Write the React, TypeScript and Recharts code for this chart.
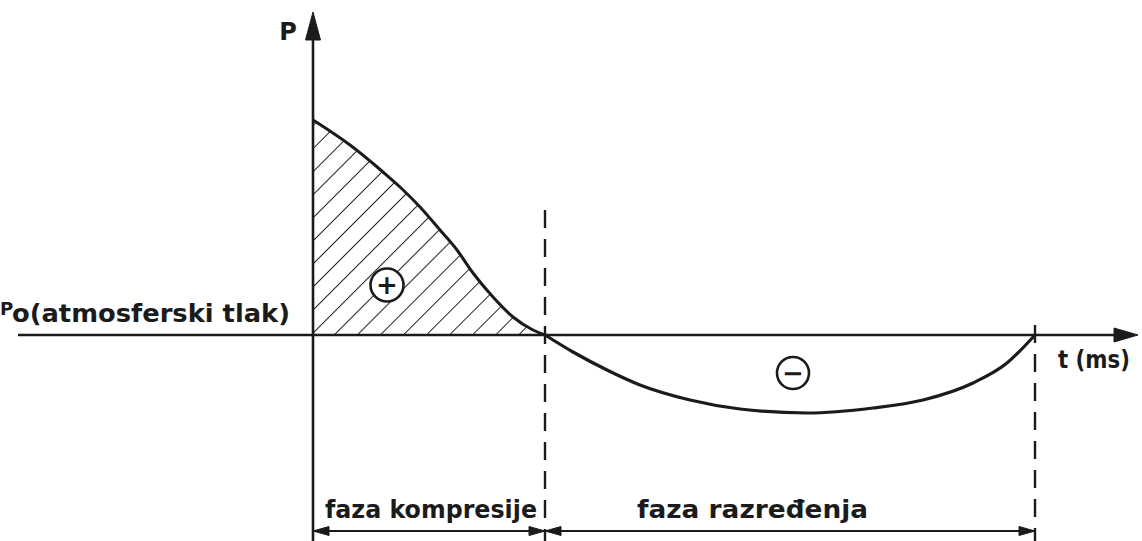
import React from 'react';
import { ComposedChart, Area, Line, XAxis, YAxis, ReferenceLine, ReferenceDot } from 'recharts';

// time (arbitrary ms units) and overpressure p - p0 (arbitrary units)
const tPos = [0, 0.37, 0.7, 0.87, 1.07, 1.27, 1.44, 1.6, 1.8, 2.0, 2.2, 2.32];
const pPos = [2.15, 1.9, 1.63, 1.48, 1.28, 1.05, 0.85, 0.62, 0.38, 0.18, 0.05, 0];
const tNeg = [2.32, 2.6, 2.94, 3.27, 3.77, 4.27, 4.94, 5.6, 6.1, 6.6, 6.94, 7.22];
const pNeg = [0, -0.17, -0.35, -0.5, -0.65, -0.74, -0.78, -0.73, -0.65, -0.48, -0.28, 0];

const tCompressionEnd = 2.32;
const tRarefactionEnd = 7.22;

const xDomain: [number, number] = [-3.13, 8.29];
const yDomain: [number, number] = [-2.06, 3.35];

const labelP = 'P';
const labelP0 = 'P';
const labelP0Rest = 'o(atmosferski tlak)';
const labelT = 't (ms)';
const labelCompression = 'faza kompresije';
const labelRarefaction = 'faza razređenja';

const table: { t: number; pos?: number | null; neg?: number | null }[] = [];
tPos.forEach((t, i) => table.push({ t, pos: pPos[i], neg: null }));
table[table.length - 1].neg = pNeg[0];
tNeg.slice(1).forEach((t, i) => table.push({ t, pos: null, neg: pNeg[i + 1] }));

const INK = '#1b1b1b';
const FONT = '"DejaVu Sans", sans-serif';

type Dir = 'up' | 'left' | 'right';
const arrow = (dir: Dir, L: number, W: number) => (props: any) => {
  const { cx, cy } = props;
  let pts = '';
  if (dir === 'up') pts = `${cx},${cy} ${cx - W},${cy + L} ${cx + W},${cy + L}`;
  if (dir === 'right') pts = `${cx},${cy} ${cx - L},${cy - W} ${cx - L},${cy + W}`;
  if (dir === 'left') pts = `${cx},${cy} ${cx + L},${cy - W} ${cx + L},${cy + W}`;
  return <polygon points={pts} fill={INK} stroke={INK} strokeWidth={1} />;
};

const txt =
  (s: string, size: number, anchor: 'start' | 'end' | 'middle', len?: number) => (props: any) =>
    (
      <text
        x={props.cx}
        y={props.cy}
        fontFamily={FONT}
        fontWeight="bold"
        fontSize={size}
        fill={INK}
        textAnchor={anchor}
        textLength={len}
        lengthAdjust={len ? 'spacingAndGlyphs' : undefined}
      >
        {s}
      </text>
    );

const signCircle = (s: string, r: number) => (props: any) => (
  <g>
    <circle cx={props.cx} cy={props.cy} r={r} fill="#fff" stroke={INK} strokeWidth={2.6} />
    <text
      x={props.cx}
      y={props.cy}
      fontFamily={FONT}
      fontWeight="bold"
      fontSize={26}
      fill={INK}
      textAnchor="middle"
      dominantBaseline="central"
    >
      {s}
    </text>
  </g>
);

export default function App() {
  return (
    <div style={{ position: 'absolute', left: 0, top: 0, width: 1142, height: 541, background: '#fff' }}>
      <ComposedChart width={1142} height={541} data={table} margin={{ top: 0, right: 0, bottom: 0, left: 0 }}>
        <defs>
          <pattern id="hatch" patternUnits="userSpaceOnUse" width={16.3} height={16.3} patternTransform="rotate(45)">
            <line x1={0} y1={-2} x2={0} y2={19} stroke={INK} strokeWidth={1.9} />
          </pattern>
        </defs>
        <XAxis type="number" dataKey="t" domain={xDomain} allowDataOverflow hide />
        <YAxis type="number" domain={yDomain} allowDataOverflow hide />

        <Area
          type="monotone"
          dataKey="pos"
          baseValue={0}
          stroke={INK}
          strokeWidth={3}
          fill="url(#hatch)"
          fillOpacity={1}
          isAnimationActive={false}
          dot={false}
          activeDot={false}
        />
        <Line
          type="monotone"
          dataKey="neg"
          stroke={INK}
          strokeWidth={3.2}
          dot={false}
          activeDot={false}
          isAnimationActive={false}
        />

        {/* axes */}
        <ReferenceLine
          segment={[{ x: -2.95, y: 0 }, { x: 8.05, y: 0 }]}
          stroke={INK}
          strokeWidth={2.6}
          ifOverflow="visible"
        />
        <ReferenceLine
          segment={[{ x: 0, y: yDomain[0] }, { x: 0, y: 2.95 }]}
          stroke={INK}
          strokeWidth={2.6}
          ifOverflow="visible"
        />
        <ReferenceDot x={8.25} y={0} r={0} ifOverflow="visible" shape={arrow('right', 24, 7)} />
        <ReferenceDot x={0} y={3.23} r={0} ifOverflow="visible" shape={arrow('up', 28, 7.5)} />

        {/* phase boundaries */}
        <ReferenceLine
          segment={[{ x: tCompressionEnd, y: 1.25 }, { x: tCompressionEnd, y: yDomain[0] }]}
          stroke={INK}
          strokeWidth={2.4}
          strokeDasharray="18 11"
          ifOverflow="visible"
        />
        <ReferenceLine
          segment={[{ x: tRarefactionEnd, y: 0.1 }, { x: tRarefactionEnd, y: yDomain[0] }]}
          stroke={INK}
          strokeWidth={2.4}
          strokeDasharray="18 11"
          ifOverflow="visible"
        />

        {/* duration arrows */}
        <ReferenceLine
          segment={[{ x: 0, y: -1.96 }, { x: tRarefactionEnd, y: -1.96 }]}
          stroke={INK}
          strokeWidth={2}
          ifOverflow="visible"
        />
        <ReferenceDot x={0} y={-1.96} r={0} ifOverflow="visible" shape={arrow('left', 16, 4.5)} />
        <ReferenceDot x={tCompressionEnd} y={-1.96} r={0} ifOverflow="visible" shape={arrow('right', 16, 4.5)} />
        <ReferenceDot x={tCompressionEnd} y={-1.96} r={0} ifOverflow="visible" shape={arrow('left', 16, 4.5)} />
        <ReferenceDot x={tRarefactionEnd} y={-1.96} r={0} ifOverflow="visible" shape={arrow('right', 16, 4.5)} />

        {/* signs */}
        <ReferenceDot x={0.74} y={0.5} r={0} ifOverflow="visible" shape={signCircle('+', 16.5)} />
        <ReferenceDot x={4.8} y={-0.38} r={0} ifOverflow="visible" shape={signCircle('−', 16)} />

        {/* labels */}
        <ReferenceDot x={-0.25} y={2.95} r={0} ifOverflow="visible" shape={txt(labelP, 24, 'middle')} />
        <ReferenceDot x={-3.13} y={0.2} r={0} ifOverflow="visible" shape={txt(labelP0, 18, 'start')} />
        <ReferenceDot x={-0.23} y={0.13} r={0} ifOverflow="visible" shape={txt(labelP0Rest, 25, 'end', 278)} />
        <ReferenceDot x={7.45} y={-0.33} r={0} ifOverflow="visible" shape={txt(labelT, 24, 'start', 72)} />
        <ReferenceDot x={0.12} y={-1.83} r={0} ifOverflow="visible" shape={txt(labelCompression, 25, 'start', 212)} />
        <ReferenceDot x={3.24} y={-1.83} r={0} ifOverflow="visible" shape={txt(labelRarefaction, 25, 'start', 231)} />
      </ComposedChart>
    </div>
  );
}
